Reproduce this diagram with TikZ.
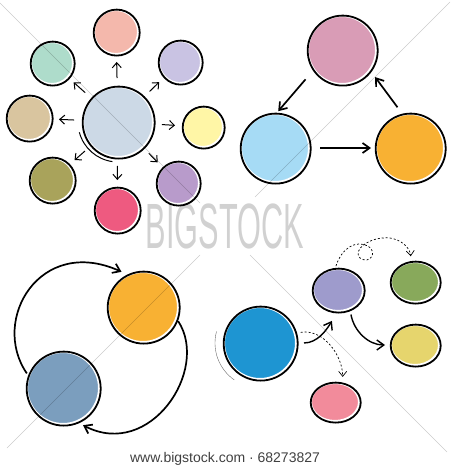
\documentclass[tikz,border=0pt]{standalone}
\usepackage{fontspec}
\setmainfont{Liberation Sans}
\usetikzlibrary{positioning,arrows.meta,shapes.geometric,calc}

\definecolor{hubblue}{HTML}{CCD9E6}
\definecolor{salmon}{HTML}{F4B8AC}
\definecolor{lavender}{HTML}{C9C3E3}
\definecolor{lemon}{HTML}{FFF6A6}
\definecolor{lilac}{HTML}{B89BCB}
\definecolor{hotpink}{HTML}{EE5A80}
\definecolor{olive}{HTML}{A9A35B}
\definecolor{tan}{HTML}{D9C59F}
\definecolor{mint}{HTML}{AEDCCB}
\definecolor{mauve}{HTML}{D99CB6}
\definecolor{skyblue}{HTML}{A6DBF5}
\definecolor{amber}{HTML}{F8B133}
\definecolor{steel}{HTML}{7B9EBE}
\definecolor{ocean}{HTML}{1E95D2}
\definecolor{violet}{HTML}{9E9BCC}
\definecolor{moss}{HTML}{88A95B}
\definecolor{sand}{HTML}{E6D56D}
\definecolor{rose}{HTML}{F28B9B}

\tikzset{
  sketch/.style={inner sep=0pt, draw=white, line width=4pt,
    postaction={draw=black, line width=1.8pt, transform canvas={shift={(0.7pt,-0.6pt)}}}},
  bubble/.style={sketch, circle, minimum size=#1},
  oval/.style 2 args={sketch, ellipse, minimum width=#1, minimum height=#2},
  spoke/.style={-{Straight Barb[length=5pt,width=9pt]}, line width=1pt, shorten <=6pt, shorten >=5pt},
  flow/.style={-{Straight Barb[length=7pt,width=10pt]}, line width=1.7pt},
  hint/.style={-{Straight Barb[length=5pt,width=8pt]}, line width=0.7pt, dash pattern=on 2pt off 2pt}
}

\begin{document}
\begin{tikzpicture}[x=1pt, y=1pt]
  \useasboundingbox (0,0) rectangle (450,-470);

  % Hub with spokes
  \node[bubble=72, fill=hubblue] (hub) at (118,-122) {};
  \node[bubble=46, fill=salmon] (top) at (116,-32) {};
  \node[bubble=44, fill=lavender] (topright) at (180,-62) {};
  \node[bubble=42, fill=lemon] (right) at (203,-127) {};
  \node[bubble=44, fill=lilac] (lowright) at (178,-183) {};
  \node[bubble=46, fill=hotpink] (bottom) at (117,-210) {};
  \node[bubble=46, fill=olive] (lowleft) at (52,-180) {};
  \node[bubble=46, fill=tan] (left) at (29,-118) {};
  \node[bubble=44, fill=mint] (topleft) at (52,-63) {};
  \draw[line width=1pt] ([shift={(195:40)}]hub.center) arc[start angle=195, end angle=262, radius=40];
  \foreach \s in {top,topright,right,lowright,bottom,lowleft,left,topleft}
    \draw[spoke] (hub) -- (\s);

  % Cycle of three
  \node[bubble=70, fill=mauve] (mauve) at (342,-50) {};
  \node[bubble=70, fill=skyblue] (sky) at (275,-148) {};
  \node[bubble=70, fill=amber] (amber) at (410,-148) {};
  \draw[flow, shorten <=10pt] (mauve.216) -- (sky.85);
  \draw[flow, shorten <=8pt, shorten >=2pt] (sky.east) -- (amber.west);
  \draw[flow, shorten <=6pt, shorten >=6pt] (amber.104) -- (mauve.323);

  % Pair exchange
  \node[bubble=72, fill=amber] (amber2) at (143,-307) {};
  \node[bubble=74, fill=steel] (steel) at (63,-388) {};
  \draw[flow, shorten >=4pt] (steel.158) .. controls (-10,-320) and (40,-235) .. (amber2.118);
  \draw[flow, shorten >=4pt] (amber2.338) .. controls (210,-370) and (150,-460) .. (steel.295);

  % Branching
  \node[bubble=74, fill=ocean] (ocean) at (260,-343) {};
  \node[oval={52}{44}, fill=violet] (violet) at (338,-290) {};
  \node[oval={50}{42}, fill=moss] (moss) at (415,-282) {};
  \node[oval={50}{42}, fill=sand] (sand) at (415,-345) {};
  \node[oval={50}{40}, fill=rose] (rose) at (335,-402) {};
  \draw[line width=0.4pt, black!60] ([shift={(165:45)}]ocean.center) arc[start angle=165, end angle=235, radius=45];
  \draw[flow, line width=1.4pt, shorten <=5pt, shorten >=8pt] (ocean.east) to[out=0, in=240] (violet.265);
  \draw[flow, line width=1.4pt, shorten <=3pt, shorten >=3pt] (violet.-60) to[out=-80, in=180] (sand.west);
  \draw[hint, shorten <=3pt, shorten >=4pt] (ocean.15) to[out=10, in=90] (rose.70);
  \draw[hint, shorten >=3pt] (violet.95) .. controls (342,-248) and (355,-240) .. (368,-246)
    .. controls (378,-252) and (370,-265) .. (360,-258)
    .. controls (352,-250) and (370,-236) .. (390,-238)
    .. controls (402,-240) and (410,-248) .. (moss.100);

  % Watermark
  \begin{scope}[black, opacity=0.2, line width=0.6pt]
    \draw (0,-3) -- (200,-203);
    \draw (450,-2) -- (255,-197);
    \draw (200,-255) -- (7,-448);
    \draw (250,-255) -- (447,-452);
  \end{scope}
  \node[text=black, opacity=0.18, font=\fontsize{64}{64}\selectfont, xscale=0.48] (stamp) at (225,-226) {BIGSTOCK};
  \node[text=black!75, font=\fontsize{14}{16}\selectfont] (credit) at (225,-459) {www.bigstock.com · 68273827};
\end{tikzpicture}
\end{document}
